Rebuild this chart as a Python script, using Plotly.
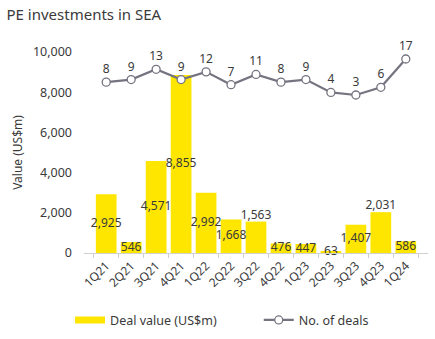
import plotly.graph_objects as go

quarters = ["1Q21", "2Q21", "3Q21", "4Q21", "1Q22", "2Q22", "3Q22", "4Q22",
            "1Q23", "2Q23", "3Q23", "4Q23", "1Q24"]
deal_value = [2925, 546, 4571, 8855, 2992, 1668, 1563, 476, 447, 63, 1407, 2031, 586]
deal_count = [8, 9, 13, 9, 12, 7, 11, 8, 9, 4, 3, 6, 17]
y_ticks = [0, 2000, 4000, 6000, 8000, 10000]

# labels drawn above the bar instead of centred inside it
outside_labels = {"3Q22", "4Q23"}

YELLOW = "#FFE600"
GREY = "#747480"
TEXT = "#3a3a3a"
FONT = "Noto Sans"

fig = go.Figure()

fig.add_trace(go.Bar(
    x=quarters, y=deal_value, marker_color=YELLOW, marker_line_width=0,
    showlegend=False, hoverinfo="skip", width=0.83,
))

# bar value labels
cx, cy, ctext = [], [], []
ox, oy, otext = [], [], []
for q, v in zip(quarters, deal_value):
    if q in outside_labels:
        ox.append(q); oy.append(v); otext.append(f"{v:,}")
    else:
        cx.append(q); cy.append(v / 2); ctext.append(f"{v:,}")

fig.add_trace(go.Scatter(
    x=cx, y=cy, text=ctext, mode="text", textposition="middle center",
    textfont=dict(family=FONT, size=12, color=TEXT), showlegend=False,
    cliponaxis=False, hoverinfo="skip",
))
fig.add_trace(go.Scatter(
    x=ox, y=oy, text=otext, mode="text", textposition="top center",
    textfont=dict(family=FONT, size=12, color=TEXT), showlegend=False,
    cliponaxis=False, hoverinfo="skip",
))

# legend proxy for the bars
fig.add_trace(go.Scatter(
    x=[None], y=[None], mode="lines", line=dict(color=YELLOW, width=7),
    name="Deal value (US$m)", legend="legend",
))

fig.add_trace(go.Scatter(
    x=quarters, y=deal_count, yaxis="y2", mode="lines+markers+text",
    text=[str(c) for c in deal_count], textposition="top center",
    textfont=dict(family=FONT, size=12, color=TEXT),
    line=dict(color=GREY, width=2.2),
    marker=dict(size=8, color="white", line=dict(color=GREY, width=1.3)),
    name="No. of deals", cliponaxis=False, legend="legend2",
))

legend_common = dict(orientation="h", xanchor="left", yanchor="middle",
                     y=-0.335, font=dict(size=12.5), itemwidth=30,
                     bgcolor="rgba(0,0,0,0)")

fig.update_layout(
    width=435, height=339,
    margin=dict(l=84, r=7, t=52, b=86, autoexpand=False),
    paper_bgcolor="white", plot_bgcolor="white",
    font=dict(family=FONT, size=12, color=TEXT),
    title=dict(text="PE investments in SEA", x=0.015, xanchor="left",
               y=0.957, yanchor="middle",
               font=dict(family=FONT, size=15, color=TEXT)),
    bargap=0.17,
    xaxis=dict(
        type="category", tickangle=-45, showline=True, linecolor="#d0d0d0",
        linewidth=1, ticks="outside", tickson="boundaries", ticklen=4,
        tickcolor="#d0d0d0", showgrid=False, tickfont=dict(size=12),
    ),
    yaxis=dict(
        range=[0, 10000], tickvals=y_ticks,
        ticktext=[f"{t:,}" for t in y_ticks], showgrid=False,
        zeroline=False, showline=False, ticks="", ticklabelstandoff=11,
        title=dict(text="Value (US$m)", standoff=7, font=dict(size=12)),
        tickfont=dict(size=12.5),
    ),
    yaxis2=dict(overlaying="y", range=[-58.45, 19.72], visible=False),
    legend=dict(x=-0.0406, **legend_common),
    legend2=dict(x=0.508, **legend_common),
)

fig.write_html("out.html")
